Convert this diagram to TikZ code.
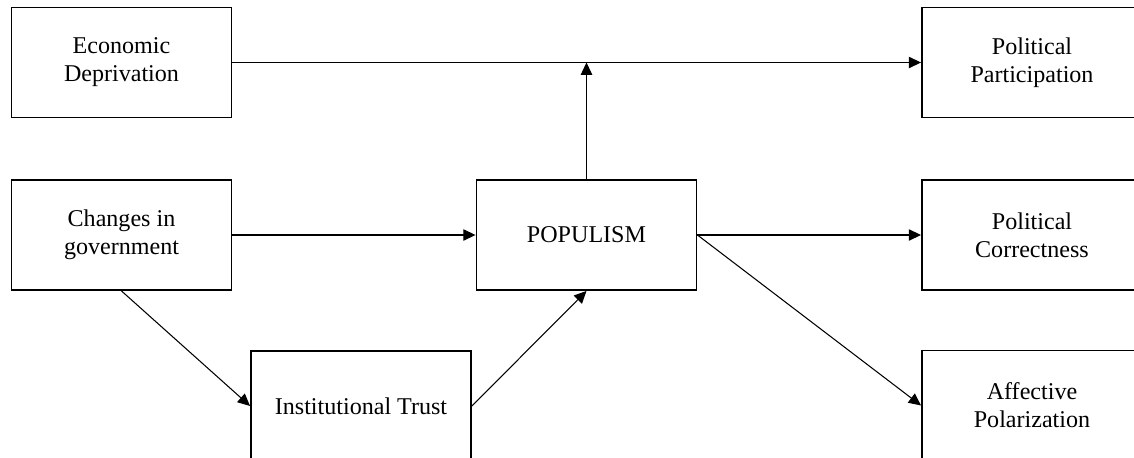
\documentclass[tikz,border=0pt]{standalone}
\usepackage{fontspec}
\setmainfont{Liberation Serif}
\usetikzlibrary{positioning,arrows.meta}

\tikzset{
  factor/.style={draw, line width=1.1pt, minimum width=4.4cm, minimum height=2.2cm,
    align=center, font=\fontsize{13.7}{16}\selectfont, inner sep=0pt},
  link/.style={line width=0.6pt, -{Triangle[length=7pt,width=6.5pt]}}
}

\begin{document}
\begin{tikzpicture}[x=0.02cm, y=-0.02cm]
\clip (0,0) rectangle (1134,457);
% causes
\node[factor] (econ) at (121.5,62.5) {Economic\\Deprivation};
\node[factor] (gov) at (121.5,235) {Changes in\\government};
\node[factor] (trust) at (361,406) {Institutional Trust};
% centre
\node[factor] (pop) at (586.5,235) {POPULISM};
% outcomes
\node[factor] (part) at (1032,62.5) {Political\\Participation};
\node[factor] (corr) at (1032,235) {Political\\Correctness};
\node[factor] (pol) at (1032,405.5) {Affective\\Polarization};

\draw[link] (econ.east) -- (part.west);
\draw[link] (pop.north) -- (pop.north |- econ.east);
\draw[link] (gov.east) -- (pop.west);
\draw[link] (gov.south) -- (trust.west);
\draw[link] (trust.east) -- (pop.south);
\draw[link] (pop.east) -- (corr.west);
\draw[link] (pop.east) -- (pol.west);
\end{tikzpicture}
\end{document}
